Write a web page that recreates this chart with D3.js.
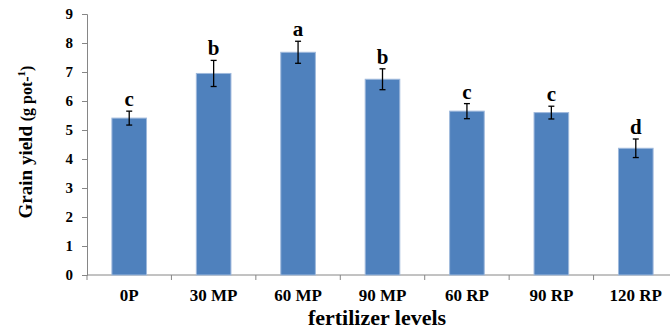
<!DOCTYPE html>
<html>
<head>
<meta charset="utf-8">
<script src="https://cdn.jsdelivr.net/npm/d3@7"></script>
<style>
  body { margin: 0; background: #fff; }
  svg text { font-family: "Liberation Serif", "Times New Roman", serif; font-weight: bold; fill: #000; }
</style>
</head>
<body>
<div id="chart"></div>
<script>
// data
const categories = ['0P', '30 MP', '60 MP', '90 MP', '60 RP', '90 RP', '120 RP'];
const yieldValues = [5.41, 6.95, 7.68, 6.75, 5.65, 5.6, 4.37];
const errorValues = [0.24, 0.45, 0.38, 0.36, 0.26, 0.22, 0.32];
const letters = ['c', 'b', 'a', 'b', 'c', 'c', 'd'];
const yTicks = [0, 1, 2, 3, 4, 5, 6, 7, 8, 9];

const width = 670;
const height = 331;
const margin = { left: 87, top: 14, bottom: 56 };
const plotRight = 678; // plot runs off the right edge in the reference

const svg = d3.select('#chart')
    .append('svg')
    .attr('width', width)
    .attr('height', height);

const x = d3.scaleBand()
    .domain(categories)
    .range([margin.left, plotRight])
    .paddingInner(0.59)
    .paddingOuter(0.295);

const y = d3.scaleLinear()
    .domain([0, 9])
    .range([height - margin.bottom, margin.top]);

const axisColor = '#868686';

// y axis
const yAxis = svg.append('g')
    .attr('transform', `translate(${margin.left},0)`)
    .call(d3.axisLeft(y).tickValues(yTicks).tickSize(5).tickPadding(9).tickFormat(d3.format('d')));
yAxis.select('.domain').attr('stroke', axisColor);
yAxis.selectAll('.tick line').attr('stroke', axisColor);
yAxis.selectAll('.tick text')
    .attr('font-size', '15px')
    .style('font-family', '"Liberation Serif", serif')
    .style('font-weight', 'bold');

// x axis line and band boundary ticks
const x0 = y(0);
svg.append('line')
    .attr('x1', margin.left).attr('x2', plotRight)
    .attr('y1', x0).attr('y2', x0)
    .attr('stroke', axisColor);

const step = x.step();
const bounds = d3.range(categories.length + 1).map(i => margin.left + i * step);
svg.selectAll('.xtick')
    .data(bounds)
    .enter().append('line')
    .attr('x1', d => d).attr('x2', d => d)
    .attr('y1', x0).attr('y2', x0 + 5)
    .attr('stroke', axisColor);

svg.selectAll('.xlabel')
    .data(categories)
    .enter().append('text')
    .attr('x', d => x(d) + x.bandwidth() / 2)
    .attr('y', x0 + 26)
    .attr('text-anchor', 'middle')
    .attr('font-size', '17px')
    .text(d => d);

// bars
svg.selectAll('.bar')
    .data(yieldValues)
    .enter().append('rect')
    .attr('x', (d, i) => x(categories[i]))
    .attr('y', d => y(d))
    .attr('width', x.bandwidth())
    .attr('height', d => y(0) - y(d))
    .attr('fill', '#4f81bd')
    .attr('stroke', '#9fb9dc')
    .attr('stroke-width', 1);

// error bars
const err = svg.selectAll('.err')
    .data(yieldValues)
    .enter().append('g');

err.append('line')
    .attr('x1', (d, i) => x(categories[i]) + x.bandwidth() / 2)
    .attr('x2', (d, i) => x(categories[i]) + x.bandwidth() / 2)
    .attr('y1', (d, i) => y(d + errorValues[i]))
    .attr('y2', (d, i) => y(d - errorValues[i]))
    .attr('stroke', '#000')
    .attr('stroke-width', 1.3);

[1, -1].forEach(sign => {
    err.append('line')
        .attr('x1', (d, i) => x(categories[i]) + x.bandwidth() / 2 - 3)
        .attr('x2', (d, i) => x(categories[i]) + x.bandwidth() / 2 + 3)
        .attr('y1', (d, i) => y(d + sign * errorValues[i]))
        .attr('y2', (d, i) => y(d + sign * errorValues[i]))
        .attr('stroke', '#000')
        .attr('stroke-width', 1.3);
});

// significance letters
svg.selectAll('.letter')
    .data(letters)
    .enter().append('text')
    .attr('x', (d, i) => x(categories[i]) + x.bandwidth() / 2)
    .attr('y', (d, i) => y(yieldValues[i] + errorValues[i]) - 5)
    .attr('text-anchor', 'middle')
    .attr('font-size', '21px')
    .text(d => d);

// axis titles
svg.append('text')
    .attr('x', 377)
    .attr('y', 325)
    .attr('text-anchor', 'middle')
    .attr('font-size', '22px')
    .text('fertilizer levels');

const yTitle = svg.append('text')
    .attr('transform', 'translate(32,142) rotate(-90)')
    .attr('text-anchor', 'middle')
    .attr('font-size', '19px');
yTitle.append('tspan').text('Grain yield ');
yTitle.append('tspan').attr('font-size', '16px').text('(g pot-');
yTitle.append('tspan').attr('font-size', '11px').attr('dy', -7).text('1');
yTitle.append('tspan').attr('font-size', '16px').attr('dy', 7).text(')');
</script>
</body>
</html>
